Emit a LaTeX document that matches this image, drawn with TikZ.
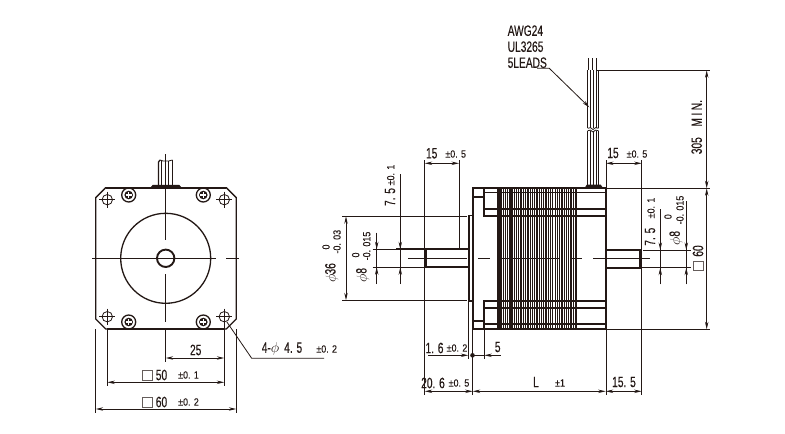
\documentclass[tikz,border=0pt]{standalone}
\usepackage{fontspec}
\usetikzlibrary{arrows.meta}
\newfontfamily\condf[FakeStretch=0.68,FakeBold=0.25]{Liberation Sans}
\newfontfamily\tolf[FakeStretch=0.85,FakeBold=0.2]{Liberation Sans}
\definecolor{ink}{HTML}{231815}
\tikzset{
  every node/.style={inner sep=0pt,outer sep=0pt,text=ink},
  thin line/.style={draw=ink,line width=0.8pt},
  med line/.style={draw=ink,line width=1.3pt},
  heavy/.style={draw=ink,line width=2pt},
  dimboth/.style={thin line,{Stealth[length=7.5pt,width=3.4pt]}-{Stealth[length=7.5pt,width=3.4pt]}},
  dimend/.style={thin line,-{Stealth[length=7.5pt,width=3.4pt]}},
  big/.style={font=\condf\fontsize{15}{15}\selectfont},
  tol/.style={font=\tolf\fontsize{10.5}{11}\selectfont},
  sq/.style={draw=ink!70,line width=1pt,fill=white},
}
\begin{document}
\begin{tikzpicture}[x=1pt,y=-1pt]
\useasboundingbox (0,0) rectangle (785,434);
% ---- front view
\foreach \sx in {128.7,203.3}{
  \draw[med line,fill=white] (\sx,195) circle (7);
  \fill[ink] (\sx,195) circle (4.3);
  \draw[white,line width=1.3pt] (\sx-3,195) -- (\sx+3,195) (\sx,192) -- (\sx,198);
  \draw[med line,fill=white] (\sx,322) circle (7);
  \fill[ink] (\sx,322) circle (4.3);
  \draw[white,line width=1.3pt] (\sx-3,322) -- (\sx+3,322) (\sx,319) -- (\sx,325);
}
% erase screw parts outside the body
\fill[white] (118,175) rectangle (214,186.7);
\fill[white] (118,330) rectangle (214,336);
\draw[med line] (105.7,187.7) -- (226.3,187.7) -- (236.3,197.7) -- (236.3,319) -- (226.3,329) -- (105.7,329) -- (95.7,319) -- (95.7,197.7) -- cycle;
\draw[heavy] (107,329) -- (225,329);
\draw[heavy] (105.7,187.7) -- (226.3,187.7);
\draw[med line] (165.7,258.3) circle (45);
\draw[draw=ink,line width=1.9pt] (165.7,258.3) circle (8.7);
\draw[thin line] (165.7,154) -- (165.7,240) (165.7,274) -- (165.7,322) (165.7,329) -- (165.7,362);
\draw[thin line] (92,258.3) -- (216,258.3) (226,258.3) -- (239,258.3);
% cable and base
\draw[draw=ink,fill=ink,line width=0.7pt] (151,187.5) -- (153,185.2) -- (179,185.2) -- (181,187.5) -- cycle;
\draw[med line] (158.5,186) -- (158.5,162) -- (160,160);
\draw[med line] (161.7,186) -- (161.7,160.5);
\draw[med line] (165.7,186) -- (165.7,160.5);
\draw[med line] (168.7,186) -- (168.7,161);
\draw[med line] (172.5,186) -- (172.5,160);
\draw[thin line] (160,160) -- (163,161) -- (168.7,161) -- (172.5,160);
% holes
\foreach \hx/\hy in {107.3/199.7,224.3/199.7,107.3/316.7,224.3/316.7}{
  \draw[thin line,fill=white] (\hx,\hy) circle (5.2);
  \draw[thin line] (\hx-8,\hy) -- (\hx+8,\hy) (\hx,\hy-8) -- (\hx,\hy+8);
}
% front dims
\draw[thin line] (107.3,330) -- (107.3,386) (224.3,322) -- (224.3,386);
\draw[thin line] (95.7,329) -- (95.7,413) (236.3,329) -- (236.3,413);
\draw[dimboth] (165.7,358) -- (224.3,358);
\draw[dimboth] (107.3,382.3) -- (224.3,382.3);
\draw[dimboth] (95.7,409) -- (236.3,409);
\node[big] (t25) at (195.7,350) {25};
\draw[sq] (142.7,370) rectangle (152.3,380);
\node[big] (t50) at (161.5,375) {50};
\node[tol] (t50t) at (188.5,375) {±0. 1};
\draw[sq] (142.7,397) rectangle (152.3,407);
\node[big] (t60) at (161.5,402) {60};
\node[tol] (t60t) at (188.5,402) {±0. 2};
\draw[thin line] (226.7,321.7) -- (251.7,358.3) -- (324,358.3);
\node[big] (thole) at (282,349) {4-$\phi$\,\,4. 5};
\node[tol] (tholet) at (326.7,349) {±0. 2};
% ---- side view left dims
\draw[thin line] (342,216.3) -- (467,216.3) (342,300.3) -- (467,300.3);
\draw[dimboth] (346,216.3) -- (346,300.3);
\node[big,rotate=90] (t36) at (331.7,273) {$\phi$36};
\node[tol,rotate=90] (t36a) at (326,247) {0};
\node[tol,rotate=90] (t36b) at (337,241.7) {-0. 03};
\draw[thin line] (376.7,232.7) -- (376.7,284) (400.3,174) -- (400.3,284);
\draw[dimend] (376.7,235) -- (376.7,249.3);
\draw[dimend] (376.7,284) -- (376.7,267.3);
\draw[dimend] (400.3,235) -- (400.3,249.3);
\draw[dimend] (400.3,284) -- (400.3,267.3);
\node[big,rotate=90] (t8) at (362.7,275) {$\phi$8};
\node[tol,rotate=90] (t8a) at (355.7,255) {0};
\node[tol,rotate=90] (t8b) at (366.7,246) {-0. 015};
\node[big,rotate=90] (t75) at (390,197) {7. 5};
\node[tol,rotate=90] (t75t) at (390.7,175) {±0. 1};
\draw[thin line] (372.7,249.3) -- (396,249.3) (372.7,267.3) -- (424,267.3);
\draw[heavy] (396,249.3) -- (468.5,249.3) (424.5,267.3) -- (468.5,267.3);
\draw[draw=ink,line width=3pt] (425.7,249.3) -- (425.7,267.3);
\draw[thin line] (424.7,160) -- (424.7,395) (459,160) -- (459,249);
\draw[dimboth] (424.7,163.3) -- (459,163.3);
\node[big] (t15l) at (431.7,153.3) {15};
\node[tol] (t15lt) at (455.7,154) {±0. 5};
\draw[thin line] (408,258.3) -- (466.7,258.3);
% ---- laminations
\foreach \lx in {501,503.3,505.4,507.6,510,512,514.3,516.6,518.8,521,523.4,525.6,528,530.2,532.4,534.8,537,539.2,541.6,543.8,546,548.4,550.6,552.8,555.2,557.4,559.6,562,564.2,566.4,568.8,571,573.2}
  \draw[draw=ink,line width=1.05pt] (\lx,188) -- (\lx,329);
\draw[draw=ink,line width=3pt] (498.7,188) -- (498.7,329);
\draw[draw=ink,line width=1.9pt] (576.3,188) -- (576.3,329);
% body
\draw[heavy] (472.7,188) rectangle (605.7,328.7);
\draw[heavy] (468.7,215.3) -- (468.7,301);
\draw[med line] (468.7,215.3) -- (472.7,215.3) (468.7,301) -- (472.7,301);
\draw[heavy] (483.7,188) -- (483.7,215.7) -- (605.7,215.7);
\draw[heavy] (483.7,328.7) -- (483.7,301) -- (605.7,301);
\draw[heavy] (472.7,196.7) -- (483.7,196.7) (472.7,320.7) -- (483.7,320.7);
\draw[med line] (483.7,192.7) -- (605.7,192.7) (483.7,324) -- (605.7,324);
\draw[heavy] (483.7,208.7) -- (605.7,208.7) (483.7,307.7) -- (605.7,307.7);
\draw[thin line] (478,258.3) -- (490,258.3) (501.7,258.3) -- (559,258.3) (570,258.3) -- (582,258.3) (593,258.3) -- (650,258.3);
% right shaft
\draw[heavy] (606,250) -- (640.7,250) (606,267.7) -- (640.7,267.7);
\draw[draw=ink,line width=2.6pt] (640.2,250) -- (640.2,267.7);
\draw[thin line] (606,160) -- (606,395) (641.7,160) -- (641.7,395);
\draw[dimboth] (606,163.3) -- (641.7,163.3);
\node[big] (t15r) at (613,153) {15};
\node[tol] (t15rt) at (637,154) {±0. 5};
\draw[thin line] (643,250) -- (690.7,250) (641,267.7) -- (690.7,267.7);
\draw[thin line] (660.3,209) -- (660.3,284.3) (686.3,201) -- (686.3,284.3);
\draw[dimend] (660.3,236) -- (660.3,250);
\draw[dimend] (660.3,284.3) -- (660.3,267.7);
\draw[dimend] (686.3,236) -- (686.3,250);
\draw[dimend] (686.3,284.3) -- (686.3,267.7);
\node[big,rotate=90] (t75r) at (650,236.7) {7. 5};
\node[tol,rotate=90] (t75rt) at (651,208) {±0. 1};
\node[big,rotate=90] (t8r) at (676,238) {$\phi$8};
\node[tol,rotate=90] (t8ra) at (668,216.7) {0};
\node[tol,rotate=90] (t8rb) at (680,210) {-0. 015};
\draw[sq] (693,261) rectangle (703,270.5);
\node[big,rotate=90] (t60r) at (698,251) {60};
% right vertical dims
\draw[thin line] (597,70.3) -- (710,70.3) (606,188.3) -- (710,188.3) (606,329.3) -- (710,329.3);
\draw[dimboth] (706.7,70.3) -- (706.7,188.3);
\draw[dimboth] (706.7,188.3) -- (706.7,329.3);
\node[big,rotate=90] (t305) at (696.7,145.7) {305};
\node[big,rotate=90] (tmin) at (696.7,113.3) {M\,I\,N.};
% cable
\foreach \cx in {588.7,592,596}
  \draw[thin line] (\cx,58.3) -- (\cx,70);
\foreach \cx in {587.7,590.5,593.5,596.5,598.5}
  \draw[med line] (\cx,70) -- (\cx,128.3) (\cx,130.7) -- (\cx,185);
\draw[thin line] (587.7,128.3) .. controls (590,127) and (591,127.5) .. (593,129.5) .. controls (595,127.5) and (596,127) .. (598.5,128.3);
\draw[thin line] (587.7,130.7) .. controls (590,129.5) and (591,130) .. (593,132) .. controls (595,130) and (596,129.5) .. (598.5,130.7);
\draw[draw=ink,fill=ink,line width=0.7pt] (585,188) -- (587,185) -- (600.5,185) -- (602.7,188) -- cycle;
% labels
\node[big,anchor=west] (awg) at (507.7,30.7) {AWG24};
\node[big,anchor=west] (ul) at (507.7,46.7) {UL3265};
\node[big,anchor=west] (leads) at (507.7,62.7) {5LEADS};
\draw[dimend] (537,68.3) -- (549.3,68.3) -- (589.3,107.3);
% bottom dims
\draw[thin line] (468.3,301) -- (468.3,359) (472.7,329) -- (472.7,395) (484.3,329) -- (484.3,359);
\draw[dimend] (428,355.3) -- (468.3,355.3);
\draw[dimend] (500.7,355.3) -- (484.3,355.3);
\draw[thin line] (484.3,355.3) -- (472.7,355.3);
\fill[ink] (472.5,355.3) circle (2.3);
\node[big] (t16) at (434.5,348) {1. 6};
\node[tol] (t16t) at (457,348) {±0. 2};
\node[big] (t5) at (497.7,347) {5};
\draw[dimboth] (424.7,391.3) -- (472.7,391.3);
\draw[dimboth] (472.7,391.3) -- (605.7,391.3);
\draw[dimboth] (605.7,391.3) -- (641.7,391.3);
\node[big] (t206) at (433,383) {20. 6};
\node[tol] (t206t) at (459,383) {±0. 5};
\node[big] (tl) at (536,382) {L};
\node[tol] (tlt) at (560,383) {±1};
\node[big] (t155) at (624,382) {15. 5};
\end{tikzpicture}
\end{document}
